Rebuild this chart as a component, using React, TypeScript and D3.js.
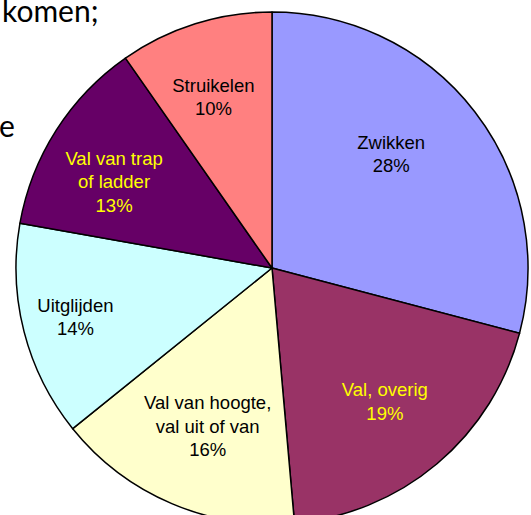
import { useEffect, useRef } from 'react';
import * as d3 from 'd3';

const categories = ['Zwikken', 'Val, overig', 'Val van hoogte, val uit of van', 'Uitglijden', 'Val van trap of ladder', 'Struikelen'];
const shares = [29.1, 19.5, 15.6, 13.6, 12.5, 9.7];
const percentLabels = ['28%', '19%', '16%', '14%', '13%', '10%'];
const labelLines = [
  ['Zwikken'],
  ['Val, overig'],
  ['Val van hoogte,', 'val uit of van'],
  ['Uitglijden'],
  ['Val van trap', 'of ladder'],
  ['Struikelen'],
];

const fills = ['#9999FF', '#993366', '#FFFFCC', '#CCFFFF', '#660066', '#FF8080'];
const textFills = ['#000000', '#FFFF00', '#000000', '#000000', '#FFFF00', '#000000'];
// small nudges so labels sit where the original put them
const labelShift: [number, number][] = [[-17, -9], [2, 2], [3, 0], [-30, 6], [-13, 6], [-7, -7]];

export default function App() {
  const svgRef = useRef<SVGSVGElement>(null);

  useEffect(() => {
    if (!svgRef.current) return;
    const width = 531;
    const height = 515;
    const cx = 272;
    const cy = 268;
    const radius = 256;
    const fontSize = 18.5;
    const lineH = 23.5;

    const svg = d3.select(svgRef.current);
    svg.selectAll('*').remove();
    svg.attr('width', width).attr('height', height);

    svg.append('rect').attr('width', width).attr('height', height).attr('fill', '#ffffff');

    // bits of the surrounding slide text
    svg.append('text')
      .attr('x', 2)
      .attr('y', 22)
      .attr('font-family', 'Lato, "Open Sans", sans-serif')
      .attr('font-size', 30)
      .attr('fill', '#000')
      .text('komen;');
    svg.append('text')
      .attr('x', -1)
      .attr('y', 137)
      .attr('font-family', 'Lato, "Open Sans", sans-serif')
      .attr('font-size', 30)
      .attr('fill', '#000')
      .text('e');

    const data = categories.map((c, i) => ({ name: c, value: shares[i], i }));
    const pie = d3.pie<{ name: string; value: number; i: number }>()
      .sort(null)
      .value(d => d.value);
    const arcs = pie(data);

    const arc = d3.arc<d3.PieArcDatum<{ name: string; value: number; i: number }>>()
      .innerRadius(0)
      .outerRadius(radius);
    const labelArc = d3.arc<d3.PieArcDatum<{ name: string; value: number; i: number }>>()
      .innerRadius(172)
      .outerRadius(172);

    const g = svg.append('g').attr('transform', `translate(${cx},${cy})`);

    g.selectAll('path')
      .data(arcs)
      .enter()
      .append('path')
      .attr('d', arc)
      .attr('fill', d => fills[d.data.i])
      .attr('stroke', '#000')
      .attr('stroke-width', 1.5)
      .attr('stroke-linejoin', 'round');

    arcs.forEach(d => {
      const [x, y] = labelArc.centroid(d);
      const [sx, sy] = labelShift[d.data.i];
      const lines = [...labelLines[d.data.i], percentLabels[d.data.i]];
      const top = y + sy - ((lines.length - 1) * lineH) / 2;
      const t = g.append('text')
        .attr('text-anchor', 'middle')
        .attr('font-family', '"Liberation Sans", Arial, sans-serif')
        .attr('font-size', fontSize)
        .attr('fill', textFills[d.data.i]);
      lines.forEach((ln, k) => {
        t.append('tspan')
          .attr('x', x + sx)
          .attr('y', top + k * lineH + fontSize * 0.36)
          .text(ln);
      });
    });
  }, []);

  return (
    <div style={{ position: 'fixed', left: 0, top: 0 }}>
      <svg ref={svgRef} style={{ display: 'block' }}></svg>
    </div>
  );
}
